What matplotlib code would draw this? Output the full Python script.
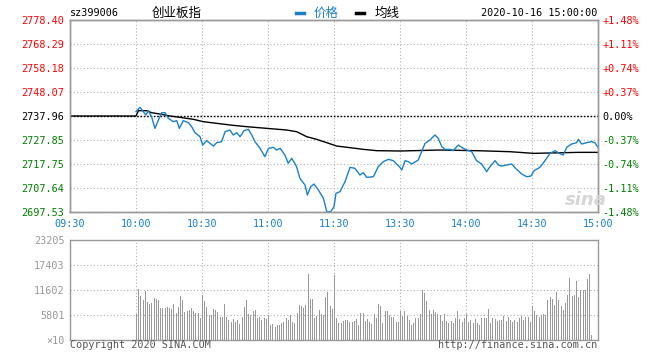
import numpy as np
import matplotlib
matplotlib.use('Agg')
from matplotlib import pyplot as plt
from matplotlib.lines import Line2D

plt.rcParams['font.family'] = ['DejaVu Sans Mono', 'Noto Sans CJK SC']

# header
code = 'sz399006'
name = '创业板指'
stamp = '2020-10-16 15:00:00'

# axis labels
prev_close = 2737.96
price_ticks = [2697.53, 2707.64, 2717.75, 2727.85, 2737.96, 2748.07, 2758.18, 2768.29, 2778.40]
pct_labels = ['-1.48%', '-1.11%', '-0.74%', '-0.37%', '0.00%', '+0.37%', '+0.74%', '+1.11%', '+1.48%']
time_ticks = [0, 30, 60, 90, 120, 150, 180, 210, 240]
time_labels = ['09:30', '10:00', '10:30', '11:00', '11:30', '13:30', '14:00', '14:30', '15:00']
vol_ticks = [0, 5801, 11602, 17403, 23205]
vol_labels = ['×10', '5801', '11602', '17403', '23205']

# price line (minutes after 09:30, trading time)
price_min = [30, 31.8, 33.3, 34.5, 35.6, 37.1, 38.6, 40.2, 41.7, 43.2, 44.7, 47, 48.5, 49.7,
             51.5, 53.8, 55.3, 56.8, 59.1, 60.3, 62.1, 65.2, 66.7, 68.9, 70.5, 72.7, 74.2,
             75.8, 77.3, 79.1, 81.1, 82.6, 84.1, 86.4, 88.6, 90.2, 92.4, 93.9, 95.5, 97.7,
             99.2, 100.8, 103, 104.5, 106.8, 107.9, 109.4, 110.9, 112.9, 115.2, 116.7, 118.5,
             120, 120.9, 122.7, 125, 127.3, 129.5, 131.8, 133.3, 134.9, 137.9, 140.1, 142.4,
             144.7, 147, 150, 150.8, 152.3, 153.8, 155.3, 158.3, 159.8, 161.4, 163.6, 165.9,
             167.4, 169, 170.5, 172.7, 174.2, 176.5, 178, 180.3, 182.6, 184.8, 187.1, 189.4,
             190.9, 193.2, 194.7, 196.2, 198.5, 200.8, 203, 205.3, 207.6, 209.5, 210.9, 213.6,
             215.9, 218.2, 220.5, 222.4, 224.2, 225.8, 228, 230.3, 231.1, 232.6, 234.8, 237.1,
             238.6, 240]
price_val = [2739.79, 2741.61, 2739.79, 2738.38, 2740.21, 2737.68, 2732.76, 2736.27, 2739.36,
             2739.36, 2736.98, 2735.57, 2736.00, 2732.76, 2736.00, 2735.15, 2733.47, 2730.94,
             2729.25, 2725.74, 2727.57, 2725.32, 2726.73, 2727.15, 2731.36, 2732.06, 2729.96,
             2730.94, 2729.25, 2731.78, 2732.34, 2729.96, 2727.15, 2724.34, 2720.83, 2724.34,
             2724.76, 2723.64, 2724.34, 2721.53, 2718.02, 2720.13, 2716.62, 2711.70, 2708.89,
             2704.68, 2708.19, 2709.31, 2706.79, 2703.28, 2697.66, 2697.66, 2699.77, 2705.38,
             2706.08, 2710.30, 2716.34, 2715.92, 2713.11, 2714.09, 2712.12, 2712.40, 2716.62,
             2718.72, 2719.71, 2719.14, 2716.34, 2715.21, 2719.14, 2718.72, 2717.74, 2719.42,
             2722.93, 2726.45, 2727.85, 2729.96, 2728.55, 2725.04, 2723.92, 2723.92, 2723.36,
             2725.74, 2724.76, 2723.64, 2722.93, 2719.14, 2717.74, 2714.51, 2716.62, 2719.14,
             2717.32, 2716.90, 2717.32, 2717.74, 2715.49, 2713.53, 2712.40, 2712.68, 2714.93,
             2716.34, 2719.14, 2722.23, 2723.36, 2722.23, 2721.53, 2724.76, 2726.16, 2726.73,
             2728.13, 2726.16, 2726.73, 2727.15, 2726.73, 2724.76]

# average line
avg_min = [0, 30, 31.1, 34.8, 37.1, 40.9, 45.5, 50, 56.1, 60.6, 66.7, 74.2, 80.3, 89.4, 98.5,
           103, 107.6, 112.1, 116.7, 121.2, 127.3, 133.3, 139.4, 150, 168.2, 184.8, 200, 210.6,
           231.1, 240]
avg_val = [2737.96, 2737.96, 2740.21, 2740.21, 2739.36, 2738.80, 2737.96, 2737.40, 2736.56,
           2735.57, 2734.87, 2734.03, 2733.47, 2732.76, 2732.06, 2731.36, 2729.25, 2728.13,
           2726.73, 2725.32, 2724.62, 2723.92, 2723.36, 2723.22, 2723.64, 2723.36, 2722.93,
           2722.23, 2722.65, 2722.65]

# volume per minute (x10), starting at 10:00
vol_start = 30
volume = [6033, 11912, 10133, 9282, 11293, 8818, 8354, 8586, 9746, 9514,
          9282, 7426, 7426, 7426, 7658, 7426, 7194, 8354, 6265, 7658,
          10133, 9282, 6497, 6807, 6962, 7426, 6807, 6265, 6265, 5105,
          10520, 9127, 7658, 5801, 5801, 7194, 6962, 6497, 5337, 5337,
          8354, 5337, 4641, 4177, 4873, 4177, 4641, 3713, 5337, 7658,
          9282, 6033, 5801, 6729, 6962, 5105, 5337, 4641, 5105, 4873,
          5801,
          3558, 3713, 3094, 3481, 3481, 3945, 4177, 5105, 4641, 5801,
          4177, 3945, 6265, 8122, 7890, 7426, 8122, 15315, 9514, 9514,
          5105, 5569, 6962, 6033, 5801, 9978, 11138, 7890, 7194, 15083,
          5105, 3945, 3945, 4409, 4641, 4641, 4177, 4177, 4409, 4873,
          3481, 6265, 6265, 4409, 4873, 4177, 3713, 6033, 5105, 8354,
          7890, 3945, 6729, 6729, 5801, 5337, 5337, 4177, 4177, 6729,
          5569, 6729, 5569, 4641, 3481, 3945, 5105, 5105, 6033, 11603,
          10906, 9050, 6962, 6033, 6962, 6497, 6033, 5801, 4409, 6033,
          4409, 3945, 4409, 3945, 5105, 6729, 4873, 4177, 5105, 6033,
          4177, 4641, 3945, 4873, 3945, 3481, 5105, 5105, 5105, 7194,
          3945, 5105, 4873, 4409, 4641, 4641, 5569, 4409, 5337, 4641,
          4177, 4641, 4177, 5105, 5569, 4641, 5337, 5337, 4177, 7890,
          6729,
          5801, 5337, 5801, 6033, 5801, 9282, 9978, 9514, 8122, 11138,
          9282, 7890, 6962, 8586, 10442, 14387, 10210, 10442, 13691, 9978,
          11603, 11603, 11603, 14155, 15315, 1160]
vol_min = np.arange(vol_start, vol_start + len(volume))

blue = '#1a80c8'
red = '#ff0000'
green = '#008000'
edge = '#999999'
grid_kw = dict(color='#b0b0b0', linestyle=(0, (1, 2)), linewidth=0.8)

fig = plt.figure(figsize=(6.6, 3.6), dpi=100)

# price panel
ax = fig.add_axes([70/660, 1-212/360, 528/660, 192/360])
ax.set_xlim(0, 240)
ax.set_ylim(price_ticks[0], price_ticks[-1])
ax.set_xticks(time_ticks)
ax.set_xticklabels(time_labels)
ax.set_yticks(price_ticks)
ax.set_yticklabels(['%.2f' % p for p in price_ticks])
ax.grid(True, **grid_kw)
ax.tick_params(length=0, labelsize=7.3)
ax.tick_params(axis='x', pad=5, colors=blue)
ax.tick_params(axis='y', pad=4)
for lab, p in zip(ax.get_yticklabels(), price_ticks):
    lab.set_color(red if p > prev_close else (green if p < prev_close else 'black'))

ax.axhline(prev_close, color='black', linestyle=(0, (1.2, 1.2)), linewidth=1)
ax.plot(avg_min, avg_val, color='black', linewidth=1)
ax.plot(price_min, price_val, color=blue, linewidth=1)

ax2 = ax.twinx()
ax2.set_ylim(ax.get_ylim())
ax2.set_yticks(price_ticks)
ax2.set_yticklabels(pct_labels)
ax2.tick_params(length=0, labelsize=7.3, pad=3)
for lab, p in zip(ax2.get_yticklabels(), price_ticks):
    lab.set_color(red if p > prev_close else (green if p < prev_close else 'black'))

for a in (ax, ax2):
    for s in a.spines.values():
        s.set_color(edge)
        s.set_linewidth(1)

fig.text(565/660, 1-200/360, 'sina', color='#d6d6d6', fontsize=13, style='italic',
         weight='bold', family='DejaVu Sans', va='center')

# volume panel
axv = fig.add_axes([70/660, 1-340/360, 528/660, 100/360])
axv.set_xlim(0, 240)
axv.set_ylim(0, vol_ticks[-1])
axv.set_xticks(time_ticks)
axv.set_xticklabels([])
axv.set_yticks(vol_ticks)
axv.set_yticklabels(vol_labels)
axv.grid(True, **grid_kw)
axv.tick_params(length=0, labelsize=7.3, colors=edge, pad=4)
axv.vlines(vol_min, 0, volume, color='#999999', linewidth=0.72, antialiased=False)
for s in axv.spines.values():
    s.set_color(edge)
    s.set_linewidth(1)

# header and footer
ty = 1 - 13/360
fig.text(70/660, ty, code, fontsize=7.3, va='center')
fig.text(177/660, ty, name, fontsize=9, va='center', ha='center', family='Noto Sans CJK SC')
fig.add_artist(Line2D([296/660, 304/660], [ty, ty], color=blue, linewidth=2.5))
fig.text(314/660, ty, '价格', fontsize=9, va='center', color=blue, family='Noto Sans CJK SC')
fig.add_artist(Line2D([356/660, 364/660], [ty, ty], color='black', linewidth=2.5))
fig.text(375/660, ty, '均线', fontsize=9, va='center', family='Noto Sans CJK SC')
fig.text(597/660, ty, stamp, fontsize=7.3, va='center', ha='right')

fy = 1 - 345/360
fig.text(70/660, fy, 'Copyright 2020 SINA.COM', fontsize=7.3, va='center', color='#555555')
fig.text(597/660, fy, 'http://finance.sina.com.cn', fontsize=7.3, va='center', ha='right',
         color='#555555')

plt.savefig('out.png', dpi=100)
